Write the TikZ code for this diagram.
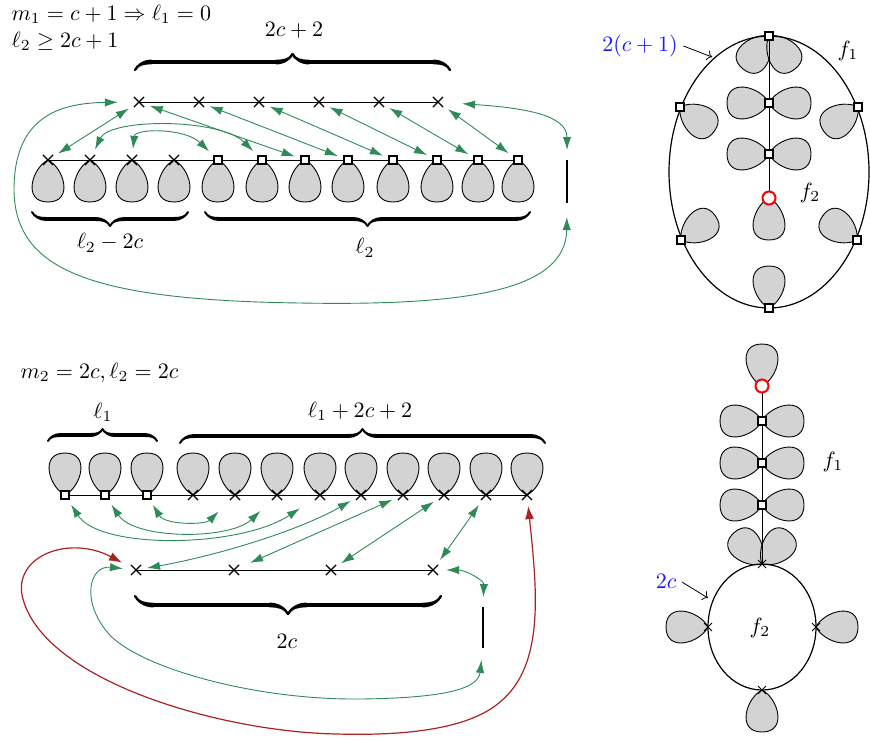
\documentclass[tikz,border=0pt]{standalone}
\usetikzlibrary{arrows.meta,decorations.pathreplacing,calligraphy,shapes.misc}
\definecolor{gr}{RGB}{46,139,87}
\definecolor{rd}{RGB}{170,35,35}
\definecolor{dropgray}{RGB}{211,211,211}
\definecolor{lblue}{RGB}{25,25,255}
\tikzset{
  dropline/.style={draw=black, fill=dropgray, line width=0.45pt},
  drop/.pic={\path[dropline] (0,0) .. controls (8,-16) and (42,-26) .. (42,0) .. controls (42,26) and (8,16) .. (0,0) -- cycle;},
  sq/.style={draw, fill=white, rectangle, minimum size=4pt, inner sep=0pt, line width=0.6pt},
  xm/.style={draw, cross out, minimum size=4.5pt, inner sep=0pt, line width=0.6pt},
  xs/.style={draw, cross out, minimum size=3.5pt, inner sep=0pt, line width=0.5pt},
  rc/.style={draw=red, fill=white, circle, minimum size=6.5pt, inner sep=0pt, line width=1pt},
  hline/.style={line width=0.5pt},
  garrow/.style={draw=gr, line width=0.45pt, {Latex[length=6.5pt,width=4.2pt]}-{Latex[length=6.5pt,width=4.2pt]}, shorten <=3pt, shorten >=3pt},
  rarrow/.style={draw=rd, line width=0.6pt, {Latex[length=6.5pt,width=4.5pt]}-{Latex[length=6.5pt,width=4.5pt]}},
  brc/.style={decorate, decoration={calligraphic brace, amplitude=#1}, line width=2pt},
  lbl/.style={inner sep=1pt, scale=1.1},
}
\begin{document}
\begin{tikzpicture}[x=0.5pt,y=-0.5pt]
\useasboundingbox (0,0) rectangle (870,740);

% ---------------- top left ----------------
\foreach \x [count=\i] in {139,199,259,319,379,438} \coordinate (u\i) at (\x,102);
\foreach \x [count=\i] in {48,90,132,174,218,262,305,348,393,437,478,518} \coordinate (a\i) at (\x,160);
\coordinate (vt) at (567,160);
\coordinate (vb) at (567,203);
\foreach \i in {1,...,12} \pic[rotate=-90] at (a\i) {drop};
\draw[hline] (u1) -- (u6);
\draw[hline] (a1) -- (a12);
\draw[line width=0.6pt] (vt) -- (vb);
\foreach \i in {1,...,6} \node[xm] (U\i) at (u\i) {};
\foreach \i in {1,...,4} \node[xm] (A\i) at (a\i) {};
\foreach \i in {5,...,12} \node[sq] (A\i) at (a\i) {};

\node[lbl, anchor=base west] (t1) at (9,20) {$m_1=c+1 \Rightarrow \ell_1 = 0$};
\node[lbl, anchor=base west] (t2) at (9,47) {$\ell_2 \geq 2c+1$};
\node[lbl] (t3) at (294,30) {$2c+2$};
\node[lbl] (t4) at (110,243) {$\ell_2-2c$};
\node[lbl] (t5) at (365,248) {$\ell_2$};

\draw[brc=8pt, line width=2.4pt] (135,70) -- (450,70);
\draw[brc=7pt] (188,212) -- (32,212);
\draw[brc=7pt] (530,212) -- (205,212);

\draw[garrow] (A1) -- (U1);
\draw[garrow] (U1) -- (A7);
\draw[garrow] (U2) -- (A8);
\draw[garrow] (U3) -- (A9);
\draw[garrow] (U4) -- (A10);
\draw[garrow] (U5) -- (A11);
\draw[garrow] (U6) -- (A12);
\draw[garrow] (A2) .. controls (110,118) and (220,118) .. (A6);
\draw[garrow] (A3) .. controls (135,128) and (185,128) .. (A5);
\draw[garrow, shorten <=9.5pt, shorten >=5pt] (U6) .. controls (525,108) and (567,115) .. (vt);
\draw[garrow, shorten <=8pt, shorten >=7pt] (U1) .. controls (55,103) and (14,120) .. (14,190)
   .. controls (15,270) and (90,300) .. (300,303) .. controls (470,306) and (566,290) .. (vb);

% ---------------- top right ----------------
\coordinate (r0) at (769,36);
\coordinate (r1) at (769,103);
\coordinate (r2) at (769,154);
\coordinate (rr) at (769,198);
\coordinate (e1) at (680,107);
\coordinate (e2) at (858,107);
\coordinate (e3) at (681,240);
\coordinate (e4) at (857,240);
\coordinate (e5) at (769,308);
\pic[rotate=-128] at (r0) {drop};
\pic[rotate=-52] at (r0) {drop};
\pic[rotate=0] at (r1) {drop};
\pic[rotate=180] at (r1) {drop};
\pic[rotate=0] at (r2) {drop};
\pic[rotate=180] at (r2) {drop};
\pic[rotate=-90] at (rr) {drop};
\pic[rotate=-35] at (e1) {drop};
\pic[rotate=-145] at (e2) {drop};
\pic[rotate=35] at (e3) {drop};
\pic[rotate=145] at (e4) {drop};
\pic[rotate=90] at (e5) {drop};
\draw[line width=0.6pt] (769,172) ellipse [x radius=50pt, y radius=68pt];
\draw[hline] (r0) -- (rr);
\node[sq] (R0) at (r0) {};
\node[sq] (R1) at (r1) {};
\node[sq] (R2) at (r2) {};
\node[rc] (RR) at (rr) {};
\node[sq] (E1) at (e1) {};
\node[sq] (E2) at (e2) {};
\node[sq] (E3) at (e3) {};
\node[sq] (E4) at (e4) {};
\node[sq] (E5) at (e5) {};
\node[lbl, text=lblue] (t6) at (640,46) {$2(c+1)$};
\node[lbl] (t7) at (848,51) {$f_1$};
\node[lbl] (t8) at (810,193) {$f_2$};
\coordinate (p1) at (712,57);
\draw[line width=0.4pt, ->] (t6.east) ++(3,0) -- (p1);

% ---------------- bottom left ----------------
\foreach \x [count=\i] in {65,105,147,193,235,277,320,361,403,444,486,527} \coordinate (b\i) at (\x,495);
\foreach \x [count=\i] in {136,234,331,433} \coordinate (c\i) at (\x,570);
\coordinate (wt) at (483,607);
\coordinate (wb) at (483,648);
\foreach \i in {1,...,12} \pic[rotate=90] at (b\i) {drop};
\draw[hline] (b1) -- (b12);
\draw[hline] (c1) -- (c4);
\draw[line width=0.6pt] (wt) -- (wb);
\foreach \i in {1,...,3} \node[sq] (B\i) at (b\i) {};
\foreach \i in {4,...,12} \node[xm] (B\i) at (b\i) {};
\foreach \i in {1,...,4} \node[xm] (C\i) at (c\i) {};

\node[lbl, anchor=base west] (t9) at (18,378) {$m_2 = 2c, \ell_2 = 2c$};
\node[lbl] (t10) at (103,412) {$\ell_1$};
\node[lbl] (t11) at (360,411) {$\ell_1+2c+2$};
\node[lbl] (t12) at (287,641) {$2c$};

\draw[brc=6pt] (48,441) -- (157,441);
\draw[brc=7pt] (180,443) -- (545,443);
\draw[brc=9pt, line width=2.4pt] (441,596) -- (135,596);

\draw[garrow, shorten >=9pt] (B1) .. controls (100,550) and (240,548) .. (B7);
\draw[garrow, shorten >=8pt] (B2) .. controls (135,540) and (230,540) .. (B6);
\draw[garrow, shorten >=8pt] (B3) .. controls (165,525) and (205,525) .. (B5);
\draw[garrow] (C1) .. controls (220,555) and (300,530) .. (B8);
\draw[garrow, shorten <=6pt] (C2) -- (B9);
\draw[garrow] (C3) -- (B10);
\draw[garrow] (C4) -- (B11);
\draw[garrow, shorten <=4pt, shorten >=5pt] (C4) .. controls (465,570) and (484,580) .. (wt);
\draw[garrow, shorten <=4pt, shorten >=6pt] (C1) .. controls (90,565) and (80,600) .. (108,633)
   .. controls (136,666) and (250,700) .. (360,699) .. controls (440,698) and (478,690) .. (wb);
\draw[rarrow, shorten <=3pt, shorten >=5pt] (B12) .. controls (537,590) and (545,665) .. (500,702)
   .. controls (470,728) and (410,736) .. (337,734) .. controls (220,732) and (40,680) .. (22,595)
   .. controls (15,555) and (70,535) .. (C1);

% ---------------- bottom right ----------------
\coordinate (q0) at (762,386);
\coordinate (q1) at (762,421);
\coordinate (q2) at (762,463);
\coordinate (q3) at (762,505);
\coordinate (g0) at (762,564);
\coordinate (g1) at (708,627);
\coordinate (g2) at (816,627);
\coordinate (g3) at (762,690);
\pic[rotate=90] at (q0) {drop};
\pic[rotate=0] at (q1) {drop};
\pic[rotate=180] at (q1) {drop};
\pic[rotate=0] at (q2) {drop};
\pic[rotate=180] at (q2) {drop};
\pic[rotate=0] at (q3) {drop};
\pic[rotate=180] at (q3) {drop};
\pic[rotate=132] at (g0) {drop};
\pic[rotate=48] at (g0) {drop};
\pic[rotate=180] at (g1) {drop};
\pic[rotate=0] at (g2) {drop};
\pic[rotate=-90] at (g3) {drop};
\draw[line width=0.6pt] (762,627) ellipse [x radius=27pt, y radius=31.5pt];
\draw[hline] (q0) -- (g0);
\node[rc] (Q0) at (q0) {};
\node[sq] (Q1) at (q1) {};
\node[sq] (Q2) at (q2) {};
\node[sq] (Q3) at (q3) {};
\node[xs] (G0) at (g0) {};
\node[xs] (G1) at (g1) {};
\node[xs] (G2) at (g2) {};
\node[xs] (G3) at (g3) {};
\node[lbl, text=lblue] (t13) at (666,581) {$2c$};
\node[lbl] (t14) at (833,462) {$f_1$};
\node[lbl] (t15) at (760,628) {$f_2$};
\coordinate (p2) at (708,598);
\draw[line width=0.4pt, ->] (t13.east) ++(3,1) -- (p2);
\end{tikzpicture}
\end{document}
